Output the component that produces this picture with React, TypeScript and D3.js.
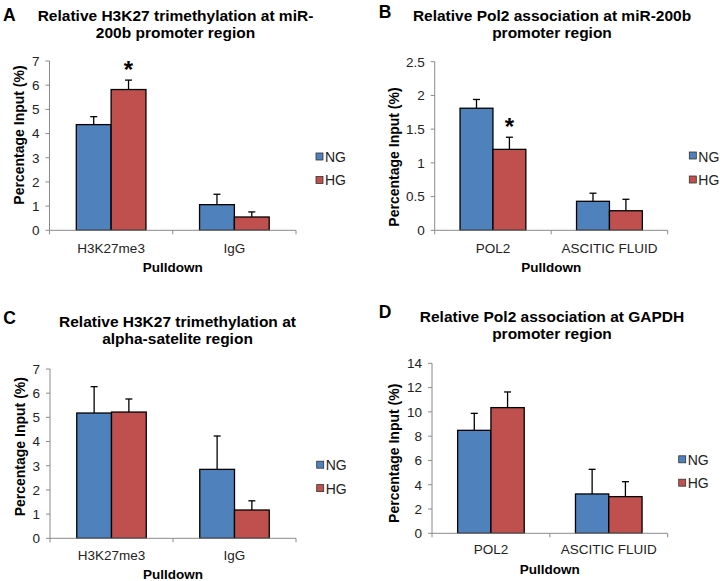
import React from "react";
import * as d3 from "d3";

// ---------- DATA ----------
const seriesNames = ["NG", "HG"];

const titleA = ["Relative H3K27 trimethylation at miR-", "200b promoter region"];
const categoriesA = ["H3K27me3", "IgG"];
const ngA = [4.37, 1.06];
const hgA = [5.82, 0.55];
const ngErrA = [0.33, 0.43];
const hgErrA = [0.39, 0.21];
const ticksA = [0, 1, 2, 3, 4, 5, 6, 7];

const titleB = ["Relative Pol2 association at miR-200b", "promoter region"];
const categoriesB = ["POL2", "ASCITIC FLUID"];
const ngB = [1.81, 0.43];
const hgB = [1.2, 0.29];
const ngErrB = [0.13, 0.12];
const hgErrB = [0.18, 0.17];
const ticksB = [0, 0.5, 1, 1.5, 2, 2.5];

const titleC = ["Relative H3K27 trimethylation at", "alpha-satelite region"];
const categoriesC = ["H3K27me3", "IgG"];
const ngC = [5.18, 2.85];
const hgC = [5.22, 1.17];
const ngErrC = [1.09, 1.38];
const hgErrC = [0.54, 0.38];
const ticksC = [0, 1, 2, 3, 4, 5, 6, 7];

const titleD = ["Relative Pol2 association at GAPDH", "promoter region"];
const categoriesD = ["POL2", "ASCITIC FLUID"];
const ngD = [8.48, 3.24];
const hgD = [10.35, 3.02];
const ngErrD = [1.4, 2.03];
const hgErrD = [1.29, 1.23];
const ticksD = [0, 2, 4, 6, 8, 10, 12, 14];

const yAxisTitle = "Percentage Input (%)";
const xAxisTitle = "Pulldown";

// ---------- STYLE ----------
const COLORS = ["#4F81BD", "#C0504D"];
const FONT = "'Liberation Sans', Arial, Helvetica, sans-serif";
const AXIS_COLOR = "#8a8a8a";

type PanelProps = {
  letter: string;
  title: string[];
  categories: string[];
  ng: number[];
  hg: number[];
  ngErr: number[];
  hgErr: number[];
  ticks: number[];
  starIndex: number;
  layout: {
    axisX: number; right: number; top: number; bottom: number;
    letterX: number; letterY: number;
    titleX: number; titleY: number[];
    yLabelX: number; yLabelY: number;
    xLabelY: number; xTitleY: number;
    legX: number; legY: number[]; legTextY: number[];
  };
};

function Panel(p: PanelProps) {
  const L = p.layout;
  const y = d3.scaleLinear().domain([0, p.ticks[p.ticks.length - 1]]).range([L.bottom, L.top]);
  const x = d3.scaleBand<string>().domain(p.categories).range([L.axisX, L.right]).padding(0);
  const bw = x.bandwidth();
  const group = bw * 0.565;
  const inner = d3.scaleBand<string>().domain(seriesNames).range([(bw - group) / 2, (bw + group) / 2]).padding(0);
  const values = [p.ng, p.hg];
  const errs = [p.ngErr, p.hgErr];
  const fmt = (v: number) => String(v);
  const boundaries = [...p.categories.map((c) => x(c)!), L.right];

  return (
    <g>
      <text x={L.letterX} y={L.letterY} fontFamily={FONT} fontWeight="bold" fontSize={17.5} fill="#000">{p.letter}</text>
      {p.title.map((t, i) => (
        <text key={i} x={L.titleX} y={L.titleY[i]} textAnchor="middle" fontFamily={FONT} fontWeight="bold" fontSize={15.5} fill="#000">{t}</text>
      ))}
      {/* y axis */}
      <line x1={L.axisX} x2={L.axisX} y1={L.top} y2={L.bottom} stroke={AXIS_COLOR} strokeWidth={1} />
      {p.ticks.map((t) => (
        <g key={t}>
          <line x1={L.axisX - 4} x2={L.axisX} y1={y(t)} y2={y(t)} stroke={AXIS_COLOR} strokeWidth={1} />
          <text x={L.axisX - 10} y={y(t) + 4.8} textAnchor="end" fontFamily={FONT} fontSize={13.5} fill="#222">{fmt(t)}</text>
        </g>
      ))}
      {/* bars */}
      {p.categories.map((c, ci) => (
        <g key={c}>
          {seriesNames.map((s, si) => {
            const x0 = x(c)! + inner(s)!;
            const w = inner.bandwidth();
            const v = values[si][ci];
            const e = errs[si][ci];
            const cx = x0 + w / 2;
            return (
              <g key={s}>
                <line x1={cx} x2={cx} y1={y(v)} y2={y(v + e)} stroke="#000" strokeWidth={1.3} />
                <line x1={cx - 3.5} x2={cx + 3.5} y1={y(v + e)} y2={y(v + e)} stroke="#000" strokeWidth={1.3} />
                <rect x={x0} y={y(v)} width={w} height={y(0) - y(v)} fill={COLORS[si]} stroke="#000" strokeWidth={1.3} />
              </g>
            );
          })}
        </g>
      ))}
      {/* x axis */}
      <line x1={L.axisX} x2={L.right} y1={L.bottom} y2={L.bottom} stroke={AXIS_COLOR} strokeWidth={1} />
      {boundaries.map((b, i) => (
        <line key={i} x1={b} x2={b} y1={L.bottom} y2={L.bottom + 4} stroke={AXIS_COLOR} strokeWidth={1} />
      ))}
      {p.categories.map((c) => (
        <text key={c} x={x(c)! + bw / 2} y={L.xLabelY} textAnchor="middle" fontFamily={FONT} fontSize={13.5} fill="#222">{c}</text>
      ))}
      {/* star */}
      {p.starIndex >= 0 && (() => {
        const c = p.categories[p.starIndex];
        const cx = x(c)! + inner("HG")! + inner.bandwidth() / 2;
        const top = y(p.hg[p.starIndex] + p.hgErr[p.starIndex]);
        return <text x={cx} y={top - 2} textAnchor="middle" fontFamily={FONT} fontWeight="bold" fontSize={24} fill="#000">*</text>;
      })()}
      <text x={(L.axisX + L.right) / 2} y={L.xTitleY} textAnchor="middle" fontFamily={FONT} fontWeight="bold" fontSize={13.5} fill="#000">{xAxisTitle}</text>
      <text transform={`translate(${L.yLabelX},${L.yLabelY}) rotate(-90)`} textAnchor="middle" fontFamily={FONT} fontWeight="bold" fontSize={14} fill="#000">{yAxisTitle}</text>
      {/* legend */}
      {seriesNames.map((s, si) => (
        <g key={s}>
          <rect x={L.legX} y={L.legY[si]} width={7} height={7} fill={COLORS[si]} stroke="#333" strokeWidth={0.8} />
          <text x={L.legX + 9} y={L.legTextY[si]} fontFamily={FONT} fontSize={14} fill="#222">{s}</text>
        </g>
      ))}
    </g>
  );
}

export default function App() {
  return (
    <svg width={723} height={581} style={{ position: "absolute", left: 0, top: 0, background: "#fff" }}>
      <rect width={723} height={581} fill="#fff" />
      <Panel letter="A" title={titleA} categories={categoriesA} ng={ngA} hg={hgA} ngErr={ngErrA} hgErr={hgErrA} ticks={ticksA} starIndex={0}
        layout={{ axisX: 49.5, right: 296, top: 61, bottom: 230.3, letterX: 3, letterY: 20.7, titleX: 175.5, titleY: [20.7, 37.7],
          yLabelX: 24, yLabelY: 135, xLabelY: 253, xTitleY: 271.7, legX: 316, legY: [153, 176.5], legTextY: [161.5, 185] }} />
      <Panel letter="B" title={titleB} categories={categoriesB} ng={ngB} hg={hgB} ngErr={ngErrB} hgErr={hgErrB} ticks={ticksB} starIndex={0}
        layout={{ axisX: 434.7, right: 667.7, top: 61.7, bottom: 230.3, letterX: 378.7, letterY: 18.3, titleX: 552, titleY: [20.7, 37.7],
          yLabelX: 399.3, yLabelY: 157, xLabelY: 253.3, xTitleY: 271.7, legX: 689.3, legY: [152, 176], legTextY: [161.5, 185] }} />
      <Panel letter="C" title={titleC} categories={categoriesC} ng={ngC} hg={hgC} ngErr={ngErrC} hgErr={hgErrC} ticks={ticksC} starIndex={-1}
        layout={{ axisX: 50, right: 296, top: 369, bottom: 538.3, letterX: 3.3, letterY: 323.5, titleX: 177.5, titleY: [327.3, 344.3],
          yLabelX: 25, yLabelY: 446.7, xLabelY: 560, xTitleY: 579.3, legX: 316.7, legY: [461.2, 484.6], legTextY: [470, 493.5] }} />
      <Panel letter="D" title={titleD} categories={categoriesD} ng={ngD} hg={hgD} ngErr={ngErrD} hgErr={hgErrD} ticks={ticksD} starIndex={-1}
        layout={{ axisX: 432, right: 667.7, top: 363.3, bottom: 533.3, letterX: 378.7, letterY: 318.3, titleX: 552, titleY: [322.3, 339],
          yLabelX: 399.3, yLabelY: 453.3, xLabelY: 554.3, xTitleY: 574, legX: 678.7, legY: [455.8, 479.2], legTextY: [464.5, 487.5] }} />
    </svg>
  );
}
